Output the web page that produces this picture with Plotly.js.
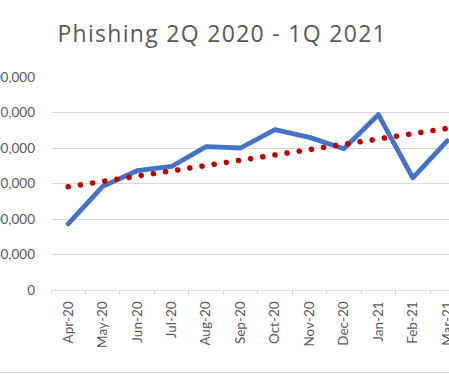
<!DOCTYPE html>
<html>
<head>
<meta charset="utf-8">
<script src="https://cdn.plot.ly/plotly-3.0.1.min.js"></script>
<style>
  html, body { margin: 0; padding: 0; background: #fff; overflow: hidden; }
  #wrap { position: relative; width: 449px; height: 375px; overflow: hidden; }
  #chart { position: absolute; left: 0; top: 0; width: 449px; height: 375px; }
  #border { position: absolute; left: 0; top: 372px; width: 449px; height: 0; border-top: 1px solid #d9d9d9; }
  .scatterlayer .trace path.js-line { stroke-linecap: round !important; stroke-linejoin: round !important; }
  .gtitle { letter-spacing: 1.3px; }
</style>
</head>
<body>
<div id="wrap">
  <div id="chart"></div>
  <div id="border"></div>
</div>
<script>
var months = ["Apr-20","May-20","Jun-20","Jul-20","Aug-20","Sep-20","Oct-20","Nov-20","Dec-20","Jan-21","Feb-21","Mar-21"];
var phishing = [93000, 146000, 168000, 174000, 202000, 200000, 226000, 215000, 199000, 247000, 158000, 210000];
var yTicks = [0, 50000, 100000, 150000, 200000, 250000, 300000];
var chartTitle = "Phishing 2Q 2020 - 1Q 2021";

// Linear trendline (least squares, as Excel does) from the data series
var n = phishing.length, sx = 0, sy = 0, sxy = 0, sxx = 0;
for (var i = 0; i < n; i++) { sx += i; sy += phishing[i]; sxy += i * phishing[i]; sxx += i * i; }
var slope = (n * sxy - sx * sy) / (n * sxx - sx * sx);
var intercept = (sy - slope * sx) / n;
var trendX = [months[0], months[n - 1]];
var trendY = [intercept, intercept + slope * (n - 1)];

var font = "Lato, 'Open Sans', sans-serif";
var titleFont = "'Open Sans', Lato, sans-serif";
var data = [
  { x: months, y: phishing, type: "scatter", mode: "lines",
    line: { color: "#4472C4", width: 4.8 }, hoverinfo: "skip", showlegend: false },
  { x: trendX, y: trendY, type: "scatter", mode: "lines",
    line: { color: "#C00000", width: 5.5, dash: "0.1px,12.2px" }, hoverinfo: "skip", showlegend: false }
];
var layout = {
  width: 449, height: 375,
  margin: { l: 51, r: 0, t: 77, b: 85 },
  paper_bgcolor: "#ffffff", plot_bgcolor: "#ffffff",
  title: { text: chartTitle, x: 0.495, xanchor: "center", y: 0.909, yref: "container", yanchor: "middle",
           font: { family: titleFont, size: 23, color: "#595959" } },
  xaxis: {
    type: "category", categoryarray: months, range: [-0.5, 11.05],
    showgrid: false, zeroline: false, showline: true, linecolor: "#d9d9d9", linewidth: 1,
    ticks: "outside", tickson: "boundaries", ticklen: 4, tickcolor: "#d9d9d9",
    tickangle: -90, tickfont: { family: font, size: 13.5, color: "#595959" }, automargin: false,
    ticklabelstandoff: 5
  },
  yaxis: {
    range: [0, 300000], tickvals: yTicks, tickformat: ",d",
    showgrid: true, gridcolor: "#d9d9d9", gridwidth: 1, zeroline: false, showline: false,
    ticks: "", tickfont: { family: font, size: 13.5, color: "#595959" }, automargin: false,
    ticklabelstandoff: 15
  }
};
Plotly.newPlot("chart", data, layout, { staticPlot: true, displayModeBar: false });
</script>
</body>
</html>
